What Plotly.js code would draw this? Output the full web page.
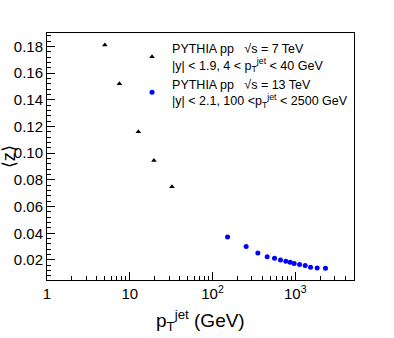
<!DOCTYPE html>
<html>
<head>
<meta charset="utf-8">
<script src="https://cdn.plot.ly/plotly-3.0.1.min.js"></script>
<style>
  html, body { margin: 0; padding: 0; background: #fff; }
  #plot { width: 394px; height: 338px; }
</style>
</head>
<body>
<div id="plot"></div>
<script>
  // PYTHIA pp, sqrt(s) = 7 TeV
  var pt7 = [5.0, 7.5, 12.7, 19.6, 32.3];
  var z7 = [0.181, 0.152, 0.116, 0.0945, 0.0748];

  // PYTHIA pp, sqrt(s) = 13 TeV
  var pt13 = [152, 255, 353, 458, 562, 664, 770, 869, 970, 1127, 1318, 1530, 1840, 2320];
  var z13 = [0.0373, 0.0300, 0.0253, 0.0225, 0.0213, 0.0200, 0.0190, 0.0183, 0.0173, 0.0166, 0.0158, 0.0146, 0.0140, 0.0138];

  var xTickVals = [1, 10, 100, 1000];
  var xTickText = ['1', '10', '10<sup>2</sup>', '10<sup>3</sup>'];

  var label7 = 'PYTHIA pp   √s = 7 TeV<br>|y| < 1.9, 4 < p<sub>T</sub><sup>jet</sup> < 40 GeV';
  var label13 = 'PYTHIA pp   √s = 13 TeV<br>|y| < 2.1, 100 <p<sub>T</sub><sup>jet</sup> < 2500 GeV';

  var trace1 = {
    x: pt7,
    y: z7,
    mode: 'markers',
    type: 'scatter',
    name: label7,
    marker: { symbol: 'triangle-up', size: 5, color: '#000' }
  };

  var trace2 = {
    x: pt13,
    y: z13,
    mode: 'markers',
    type: 'scatter',
    name: label13,
    marker: { symbol: 'circle', size: 5, color: '#0000ff' }
  };

  var data = [trace1, trace2];

  var font = 'Liberation Sans, Arial, Helvetica, sans-serif';

  var layout = {
    width: 394,
    height: 338,
    margin: { l: 47, r: 40, t: 33, b: 58 },
    paper_bgcolor: '#fff',
    plot_bgcolor: '#fff',
    font: { family: font, color: '#000', size: 15 },
    showlegend: true,
    legend: {
      x: 0.277, y: 0.996, xanchor: 'left', yanchor: 'top',
      bgcolor: 'rgba(0,0,0,0)',
      font: { family: font, size: 12.5, color: '#000' },
      tracegroupgap: 0,
      itemwidth: 30
    },
    xaxis: {
      type: 'log',
      range: [0, 3.71],
      tickvals: xTickVals,
      ticktext: xTickText,
      ticks: 'inside',
      ticklen: 8,
      tickcolor: '#000',
      showgrid: false,
      zeroline: false,
      showline: true,
      linecolor: '#000',
      linewidth: 1,
      mirror: true,
      minor: { ticks: 'inside', ticklen: 4, tickcolor: '#000', dtick: 'D1', showgrid: false },
      tickfont: { size: 15 }
    },
    yaxis: {
      range: [0.005, 0.19],
      dtick: 0.02,
      tick0: 0,
      tickformat: '.2f',
      ticks: 'inside',
      ticklen: 8,
      tickcolor: '#000',
      showgrid: false,
      zeroline: false,
      showline: true,
      linecolor: '#000',
      linewidth: 1,
      mirror: true,
      minor: { ticks: 'inside', ticklen: 4, tickcolor: '#000', dtick: 0.004, showgrid: false },
      tickfont: { size: 15 }
    },
    annotations: [
      {
        text: 'p<sub>T</sub><sup>jet</sup> (GeV)',
        xref: 'paper', yref: 'paper',
        x: 0.5, y: -0.165, xanchor: 'center', yanchor: 'middle',
        showarrow: false,
        font: { family: font, size: 19 }
      },
      {
        text: '⟨z⟩',
        xref: 'paper', yref: 'paper',
        x: -0.125, y: 0.5, xanchor: 'center', yanchor: 'middle',
        textangle: -90,
        showarrow: false,
        font: { family: font, size: 18 }
      }
    ]
  };

  Plotly.newPlot('plot', data, layout, { staticPlot: true });
</script>
</body>
</html>
